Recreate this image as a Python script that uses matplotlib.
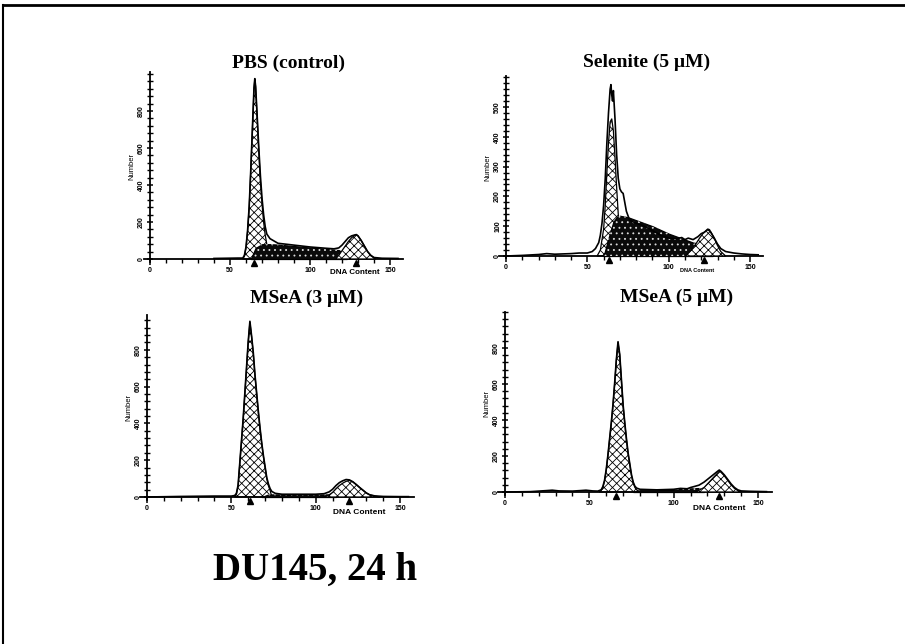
import matplotlib
matplotlib.use("Agg")
import matplotlib.pyplot as plt
from matplotlib.lines import Line2D
from matplotlib.ticker import MultipleLocator, FixedLocator
import matplotlib.transforms as mtransforms

plt.rcParams['hatch.linewidth'] = 0.6

# ---------------- data ----------------
titles = ["PBS (control)", "Selenite (5 \u03bcM)", "MSeA (3 \u03bcM)", "MSeA (5 \u03bcM)"]
main_title = "DU145, 24 h"
x_ticks = [0, 50, 100, 150]

# PBS (control)
pbs_total_x = [40, 55, 58, 59, 60, 61, 62, 63, 64, 65, 65.5, 66, 67, 68, 69, 70, 71, 72, 73, 75, 77, 80, 90,
               100, 110, 115, 118, 120, 122, 124, 126, 128, 129, 130, 132, 134, 136, 138, 140, 145, 155]
pbs_total_y = [3, 5, 5, 20, 65, 155, 285, 485, 705, 925, 975, 935, 770, 600, 450, 330, 240, 175, 135, 110,
               100, 85, 75, 65, 58, 55, 60, 75, 95, 115, 125, 130, 132, 125, 100, 70, 40, 20, 8, 4, 3]
pbs_g1_x = [58, 59, 60, 61, 62, 63, 64, 65, 65.5, 66, 67, 68, 69, 70, 71, 72, 73, 74, 76, 78]
pbs_g1_y = [0, 15, 60, 150, 280, 480, 700, 920, 970, 930, 760, 580, 420, 300, 200, 130, 80, 40, 10, 0]
pbs_s_x = [63, 66, 70, 75, 80, 90, 100, 110, 118, 121, 123]
pbs_s_y = [0, 60, 80, 80, 78, 70, 62, 55, 48, 30, 0]
pbs_g2_x = [116, 118, 120, 122, 124, 126, 128, 129, 130, 132, 134, 136, 138, 141]
pbs_g2_y = [0, 20, 45, 70, 95, 115, 128, 130, 125, 100, 70, 40, 18, 0]
pbs_marks = [65, 129]
pbs_yticks = [0, 200, 400, 600, 800]

# Selenite (5 uM)
sel_total_x = [0, 10, 20, 25, 30, 40, 45, 50, 53, 55, 57, 58, 59, 60, 61, 62, 63, 64, 64.5, 65, 65.5, 66, 67,
               68, 69, 70, 71, 72, 73, 74, 75, 76, 78, 80, 85, 90, 95, 100, 105, 108, 110, 112, 115, 118, 120,
               122, 124, 125, 126, 128, 130, 132, 135, 140, 145, 150, 155]
sel_total_y = [0, 2, 5, 8, 6, 8, 10, 10, 15, 25, 45, 70, 110, 170, 260, 380, 480, 560, 575, 540, 520, 555, 460,
               340, 260, 225, 215, 210, 180, 150, 135, 120, 115, 110, 100, 85, 70, 60, 58, 62, 55, 60, 55, 65,
               75, 80, 90, 88, 78, 60, 40, 25, 15, 10, 7, 5, 4]
sel_g1_x = [56, 58, 60, 61, 62, 63, 64, 65, 66, 67, 68, 69, 70, 72]
sel_g1_y = [0, 20, 90, 170, 280, 380, 450, 460, 420, 330, 230, 140, 70, 0]
sel_s_x = [60, 63, 66, 68, 70, 75, 80, 90, 100, 110, 115, 120, 124, 127]
sel_s_y = [0, 60, 115, 130, 135, 130, 120, 100, 75, 55, 45, 40, 20, 0]
sel_g2_x = [110, 113, 116, 119, 121, 123, 124, 126, 128, 130, 132, 135]
sel_g2_y = [0, 15, 35, 60, 75, 85, 88, 80, 60, 35, 15, 0]
sel_marks = [63, 122]
sel_yticks = [0, 100, 200, 300, 400, 500]

# MSeA (3 uM)
m3_total_x = [0, 20, 40, 50, 52, 53, 54, 55, 56, 57, 58, 59, 60, 61, 62, 63, 64, 65, 66, 67, 68, 69, 70, 71, 72,
              73, 74, 76, 80, 90, 100, 105, 108, 110, 112, 114, 116, 118, 120, 122, 124, 126, 128, 130, 132,
              135, 140, 150, 155]
m3_total_y = [0, 3, 5, 5, 8, 20, 65, 185, 305, 425, 565, 705, 845, 955, 875, 785, 665, 565, 465, 375, 295, 225,
              165, 105, 70, 45, 30, 20, 15, 15, 15, 18, 28, 42, 62, 78, 88, 95, 93, 83, 68, 52, 37, 22, 12, 6,
              3, 2, 2]
m3_g1_x = [52, 53, 54, 55, 56, 57, 58, 59, 60, 61, 62, 63, 64, 65, 66, 67, 68, 69, 70, 71, 72, 73, 74]
m3_g1_y = [0, 15, 60, 180, 300, 420, 560, 700, 840, 950, 870, 780, 660, 560, 460, 370, 290, 220, 160, 100, 60,
           35, 0]
m3_s_x = [68, 72, 80, 90, 100, 106, 110, 112]
m3_s_y = [0, 14, 14, 13, 13, 14, 12, 0]
m3_g2_x = [104, 108, 110, 112, 114, 116, 118, 120, 122, 124, 126, 128, 130, 132, 135, 138]
m3_g2_y = [0, 12, 25, 45, 62, 75, 85, 90, 82, 68, 52, 37, 22, 12, 5, 0]
m3_marks = [61, 120]
m3_yticks = [0, 200, 400, 600, 800]

# MSeA (5 uM)
m5_total_x = [0, 15, 20, 25, 28, 32, 40, 45, 48, 52, 55, 57, 58, 59, 60, 61, 62, 63, 64, 65, 66, 67, 68, 69, 70,
              71, 72, 73, 74, 75, 76, 77, 78, 80, 90, 100, 104, 108, 110, 112, 115, 118, 120, 122, 124, 126,
              127, 128, 130, 132, 134, 136, 138, 140, 145, 150, 155]
m5_total_y = [0, 2, 5, 8, 10, 6, 5, 8, 10, 6, 5, 12, 30, 65, 125, 205, 295, 385, 485, 605, 735, 835, 765, 625,
              485, 385, 295, 215, 155, 95, 55, 32, 22, 15, 12, 15, 20, 18, 25, 30, 38, 55, 70, 85, 100, 115,
              122, 115, 95, 70, 45, 25, 12, 6, 4, 3, 2]
m5_g1_x = [56, 57, 58, 59, 60, 61, 62, 63, 64, 65, 66, 67, 68, 69, 70, 71, 72, 73, 74, 75, 76, 77, 78, 80]
m5_g1_y = [0, 10, 25, 60, 120, 200, 290, 380, 480, 600, 730, 830, 760, 620, 480, 380, 290, 210, 150, 90, 50,
           25, 12, 0]
m5_s_x = [76, 80, 90, 100, 105, 110, 115, 118]
m5_s_y = [0, 10, 10, 12, 18, 20, 22, 0]
m5_g2_x = [112, 115, 118, 120, 122, 124, 126, 127, 128, 130, 132, 134, 136, 138, 140]
m5_g2_y = [0, 10, 25, 45, 65, 85, 105, 115, 110, 90, 65, 40, 20, 8, 0]
m5_marks = [66, 127]
m5_yticks = [0, 200, 400, 600, 800]

panels = [
    dict(title=titles[0], tx=pbs_total_x, ty=pbs_total_y, g1=(pbs_g1_x, pbs_g1_y), s=(pbs_s_x, pbs_s_y),
         g2=(pbs_g2_x, pbs_g2_y), marks=pbs_marks, yticks=pbs_yticks),
    dict(title=titles[1], tx=sel_total_x, ty=sel_total_y, g1=(sel_g1_x, sel_g1_y), s=(sel_s_x, sel_s_y),
         g2=(sel_g2_x, sel_g2_y), marks=sel_marks, yticks=sel_yticks),
    dict(title=titles[2], tx=m3_total_x, ty=m3_total_y, g1=(m3_g1_x, m3_g1_y), s=(m3_s_x, m3_s_y),
         g2=(m3_g2_x, m3_g2_y), marks=m3_marks, yticks=m3_yticks),
    dict(title=titles[3], tx=m5_total_x, ty=m5_total_y, g1=(m5_g1_x, m5_g1_y), s=(m5_s_x, m5_s_y),
         g2=(m5_g2_x, m5_g2_y), marks=m5_marks, yticks=m5_yticks),
]

# ---------------- layout (pixel geometry) ----------------
W, H = 905, 644
layout = [
    dict(x0=150, sx=1.60, y0=259, sy=0.185, ylim=(-15, 1010), minor=40, tcx=288, tcy=63,
         dna=128, doff=13, dsize=5.8),
    dict(x0=506, sx=1.627, y0=256, sy=0.298, ylim=(-8, 605), minor=20, tcx=647, tcy=62,
         dna=117.5, doff=14, dsize=4.0),
    dict(x0=147, sx=1.687, y0=497, sy=0.184, ylim=(-15, 990), minor=40, tcx=307, tcy=298,
         dna=126, doff=15, dsize=6.0),
    dict(x0=505, sx=1.687, y0=492, sy=0.180, ylim=(-15, 1000), minor=40, tcx=677, tcy=297,
         dna=127, doff=16, dsize=6.0),
]
XLIM = (-4, 158)

fig = plt.figure(figsize=(W / 100, H / 100), dpi=100)
fig.patch.set_facecolor("white")

tick_font = dict(family="Liberation Sans", size=5, weight="bold")

for p, L in zip(panels, layout):
    left = (L["x0"] + XLIM[0] * L["sx"]) / W
    right = (L["x0"] + XLIM[1] * L["sx"]) / W
    bottom = 1 - (L["y0"] - L["ylim"][0] * L["sy"]) / H
    top = 1 - (L["y0"] - L["ylim"][1] * L["sy"]) / H
    ax = fig.add_axes([left, bottom, right - left, top - bottom])
    ax.set_xlim(*XLIM)
    ax.set_ylim(*L["ylim"])
    ax.patch.set_alpha(0)

    # G1 (cross-hatched)
    ax.fill_between(p["g1"][0], 0, p["g1"][1], facecolor="white", edgecolor="black",
                    hatch="xxxx", linewidth=0.9, zorder=2)
    # S phase (dark stipple)
    ax.fill_between(p["s"][0], 0, p["s"][1], facecolor="#0a0a0a", edgecolor="black",
                    linewidth=0.9, zorder=3)
    ax.fill_between(p["s"][0], 0, p["s"][1], facecolor="none", edgecolor="#dddddd",
                    hatch="...", linewidth=0, zorder=3.5)
    # G2 (cross-hatched)
    ax.fill_between(p["g2"][0], 0, p["g2"][1], facecolor="white", edgecolor="black",
                    hatch="xxxx", linewidth=0.9, zorder=4)
    # total histogram outline
    ax.plot(p["tx"], p["ty"], color="black", linewidth=1.2, zorder=5)

    # peak markers below axis
    trans = mtransforms.blended_transform_factory(ax.transData, ax.transData)
    offs = mtransforms.offset_copy(trans, fig=fig, x=0, y=-4, units="dots")
    ax.plot(p["marks"], [0] * len(p["marks"]), linestyle="none", marker="^", markersize=5,
            color="black", transform=offs, clip_on=False, zorder=6)

    for s in ("top", "right"):
        ax.spines[s].set_visible(False)
    ax.spines["left"].set_position(("data", 0))
    ax.spines["bottom"].set_position(("data", 0))
    ax.spines["left"].set_linewidth(1.3)
    ax.spines["bottom"].set_linewidth(1.3)

    ax.xaxis.set_major_locator(FixedLocator(x_ticks))
    ax.xaxis.set_minor_locator(MultipleLocator(10))
    ax.yaxis.set_major_locator(FixedLocator(p["yticks"]))
    ax.yaxis.set_minor_locator(MultipleLocator(L["minor"]))
    ax.tick_params(axis="x", which="major", direction="out", length=4, width=1.1, pad=1.5)
    ax.tick_params(axis="x", which="minor", direction="out", length=3, width=1)
    ax.tick_params(axis="y", which="major", direction="inout", length=5, width=1.1, pad=1)
    ax.tick_params(axis="y", which="minor", direction="inout", length=4, width=1)
    ax.set_xticklabels([str(v) for v in x_ticks], fontdict=tick_font)
    ax.set_yticklabels([str(v) for v in p["yticks"]], fontdict=tick_font, rotation=90, va="center")

    ax.set_ylabel("Number", family="Liberation Sans", size=5.5, labelpad=2)
    ax.annotate("DNA Content", xy=(L["dna"], 0), xycoords="data", xytext=(0, -L["doff"]),
                textcoords="offset pixels", ha="center", va="center",
                family="Liberation Sans", size=L["dsize"], weight="bold", annotation_clip=False)

    fig.text(L["tcx"] / W, 1 - L["tcy"] / H, p["title"], ha="center", va="center",
             family="Liberation Serif", weight="bold", size=14)

fig.text(315 / W, 1 - 570 / H, main_title, ha="center", va="center",
         family="Liberation Serif", weight="bold", size=28)

# page frame (top and left borders)
fig.add_artist(Line2D([3 / W, 1.0], [1 - 5 / H, 1 - 5 / H], color="black", linewidth=2))
fig.add_artist(Line2D([3 / W, 3 / W], [0, 1 - 5 / H], color="black", linewidth=1.5))

fig.savefig("out.png", dpi=100, facecolor="white")
